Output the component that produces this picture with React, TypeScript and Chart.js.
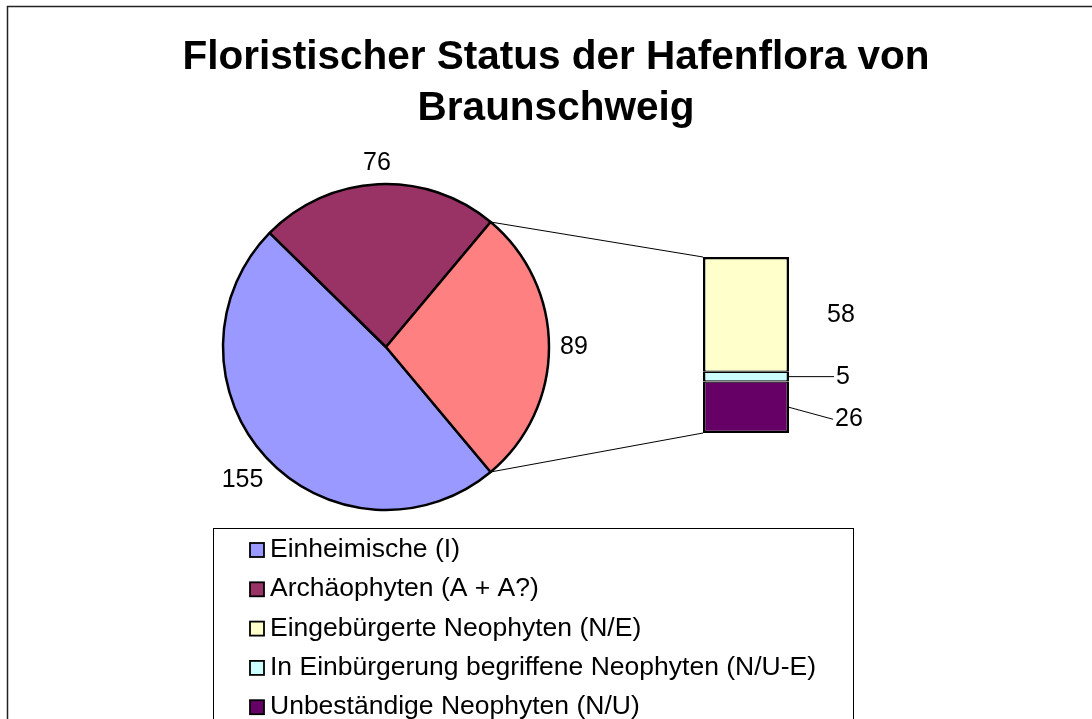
import React, { useEffect, useRef } from 'react';
import { Chart, registerables } from 'chart.js';

Chart.register(...registerables);

// ---------- data ----------
const TITLE_LINES = ['Floristischer Status der Hafenflora von', 'Braunschweig'];
const PIE_LABELS = ['Einheimische (I)', 'Archäophyten (A + A?)'];
const PIE_VALUES = [155, 76];
const BAR_LABELS = [
  'Eingebürgerte Neophyten (N/E)',
  'In Einbürgerung begriffene Neophyten (N/U-E)',
  'Unbeständige Neophyten (N/U)',
];
const BAR_VALUES = [58, 5, 26];

// ---------- styles ----------
const PIE_COLORS = ['#9999FF', '#993366'];
const OTHER_COLOR = '#FF8080';
const BAR_COLORS = ['#FFFFCC', '#CCFFFF', '#660066'];
const W = 1092;
const H = 719;
const FONT = '"Liberation Sans", Arial, Helvetica, sans-serif';
// label placement for the bar segments (dx from bar right edge, dy from segment middle)
const BAR_LABEL_PLACE = [
  { dx: 52, dy: 0, leader: false },
  { dx: 54, dy: -1, leader: true },
  { dx: 60, dy: 11, leader: true },
];

export default function App() {
  const pieRef = useRef<HTMLCanvasElement | null>(null);
  const barRef = useRef<HTMLCanvasElement | null>(null);

  useEffect(() => {
    if (!pieRef.current || !barRef.current) return;
    const otherValue = BAR_VALUES.reduce((a, b) => a + b, 0);
    const pieData = [...PIE_VALUES, otherValue];
    const total = pieData.reduce((a, b) => a + b, 0);
    const otherDeg = (otherValue / total) * 360;
    const rotation = 90 + otherDeg / 2;

    const framePlugin = {
      id: 'frame',
      beforeDraw(chart: any) {
        const ctx = chart.ctx;
        ctx.save();
        ctx.fillStyle = '#fff';
        ctx.fillRect(0, 0, chart.width, chart.height);
        ctx.strokeStyle = '#222';
        ctx.lineWidth = 1.5;
        ctx.beginPath();
        ctx.moveTo(7.5, chart.height);
        ctx.lineTo(7.5, 6.5);
        ctx.lineTo(chart.width, 6.5);
        ctx.stroke();
        ctx.restore();
      },
    };

    const titleLegendPlugin = {
      id: 'titleLegend',
      afterDraw(chart: any) {
        const ctx = chart.ctx;
        ctx.save();
        // title
        ctx.fillStyle = '#000';
        ctx.textAlign = 'center';
        ctx.textBaseline = 'alphabetic';
        ctx.font = `bold 40.5px ${FONT}`;
        const baselines = [69, 120];
        TITLE_LINES.forEach((t, i) => ctx.fillText(t, 556, baselines[i]));

        // legend
        const items = [
          ...PIE_LABELS.map((l, i) => ({ label: l, color: PIE_COLORS[i] })),
          ...BAR_LABELS.map((l, i) => ({ label: l, color: BAR_COLORS[i] })),
        ];
        ctx.strokeStyle = '#000';
        ctx.lineWidth = 1;
        ctx.strokeRect(213.5, 528.5, 640, 300);
        ctx.font = `26.5px ${FONT}`;
        ctx.textAlign = 'left';
        items.forEach((it, i) => {
          const base = 557 + i * 39.3;
          ctx.fillStyle = it.color;
          ctx.fillRect(250, base - 14, 14, 14);
          ctx.lineWidth = 1.8;
          ctx.strokeStyle = '#000';
          ctx.strokeRect(250, base - 14, 14, 14);
          ctx.fillStyle = '#000';
          ctx.fillText(it.label, 270, base);
        });
        ctx.restore();
      },
    };

    const pie = new Chart(pieRef.current, {
      type: 'pie',
      data: {
        labels: [...PIE_LABELS, 'Neophyten'],
        datasets: [
          {
            data: pieData,
            backgroundColor: [...PIE_COLORS, OTHER_COLOR],
            borderColor: '#000',
            borderWidth: 2.5,
            hoverOffset: 0,
          },
        ],
      },
      options: {
        responsive: false,
        animation: false,
        events: [],
        rotation,
        radius: 163,
        layout: { padding: { left: 223, right: W - 549, top: 184, bottom: H - 510 } },
        plugins: {
          legend: { display: false },
          tooltip: { enabled: false },
          title: { display: false },
        },
      } as any,
      plugins: [framePlugin, titleLegendPlugin],
    });

    const overlayPlugin = {
      id: 'overlay',
      afterDraw(chart: any) {
        const ctx = chart.ctx;
        const arcs = pie.getDatasetMeta(0).data as any[];
        ctx.save();
        ctx.fillStyle = '#000';
        ctx.strokeStyle = '#000';
        ctx.font = `25px ${FONT}`;
        ctx.textAlign = 'center';
        ctx.textBaseline = 'middle';

        // pie labels
        arcs.forEach((arc, i) => {
          const p = arc.getProps(['x', 'y', 'startAngle', 'endAngle', 'outerRadius']);
          const mid = (p.startAngle + p.endAngle) / 2;
          const text = String(pieData[i]);
          const w = ctx.measureText(text).width;
          const h = 18;
          const d = p.outerRadius + 11 + (w / 2) * Math.abs(Math.cos(mid)) + (h / 2) * Math.abs(Math.sin(mid));
          ctx.fillText(text, p.x + d * Math.cos(mid), p.y + d * Math.sin(mid));
        });

        // connector lines
        const other = arcs[arcs.length - 1].getProps(['x', 'y', 'startAngle', 'endAngle', 'outerRadius']);
        const R = other.outerRadius;
        const topMeta = chart.getDatasetMeta(0).data[0] as any;
        const botMeta = chart.getDatasetMeta(BAR_VALUES.length - 1).data[0] as any;
        const left = topMeta.x - topMeta.width / 2;
        const top = Math.min(topMeta.y, topMeta.base);
        const bottom = Math.max(botMeta.y, botMeta.base);
        ctx.lineWidth = 1;
        ctx.beginPath();
        ctx.moveTo(other.x + R * Math.cos(other.startAngle), other.y + R * Math.sin(other.startAngle));
        ctx.lineTo(left, top);
        ctx.moveTo(other.x + R * Math.cos(other.endAngle), other.y + R * Math.sin(other.endAngle));
        ctx.lineTo(left, bottom);
        ctx.stroke();

        // bar labels
        BAR_VALUES.forEach((v, i) => {
          const el = chart.getDatasetMeta(i).data[0] as any;
          const right = el.x + el.width / 2;
          const midY = (el.y + el.base) / 2;
          const pl = BAR_LABEL_PLACE[i];
          const text = String(v);
          const w = ctx.measureText(text).width;
          const lx = right + pl.dx;
          const ly = midY + pl.dy;
          if (pl.leader) {
            ctx.beginPath();
            ctx.moveTo(right, midY);
            ctx.lineTo(lx - w / 2 - 2, ly + 1);
            ctx.stroke();
          }
          ctx.fillText(text, lx, ly + 1);
        });
        ctx.restore();
      },
    };

    const n = BAR_VALUES.length;
    const bar = new Chart(barRef.current, {
      type: 'bar',
      data: {
        labels: [''],
        datasets: BAR_VALUES.map((v, i) => ({
          label: BAR_LABELS[i],
          data: [v],
          backgroundColor: BAR_COLORS[i],
          borderColor: '#000',
          borderWidth: { left: 2.5, right: 2.5, top: i === 0 ? 2.5 : 1.25, bottom: i === n - 1 ? 2.5 : 1.25 },
          borderSkipped: false,
          inflateAmount: 0,
          barPercentage: 1,
          categoryPercentage: 1,
        })),
      },
      options: {
        responsive: false,
        animation: false,
        events: [],
        layout: { padding: { left: 703, right: W - 789, top: 257, bottom: H - 433 } },
        scales: {
          x: { display: false, stacked: true },
          y: { display: false, stacked: true, reverse: true, min: 0, max: otherValue },
        },
        plugins: {
          legend: { display: false },
          tooltip: { enabled: false },
          title: { display: false },
        },
      } as any,
      plugins: [overlayPlugin],
    });

    return () => {
      bar.destroy();
      pie.destroy();
    };
  }, []);

  const canvasStyle: React.CSSProperties = {
    position: 'absolute',
    left: 0,
    top: 0,
    width: W,
    height: H,
  };

  return (
    <div
      style={{
        position: 'absolute',
        left: 0,
        top: 0,
        width: W,
        height: H,
        overflow: 'hidden',
        background: '#fff',
      }}
    >
      <canvas ref={pieRef} width={W} height={H} style={canvasStyle} />
      <canvas ref={barRef} width={W} height={H} style={canvasStyle} />
    </div>
  );
}
